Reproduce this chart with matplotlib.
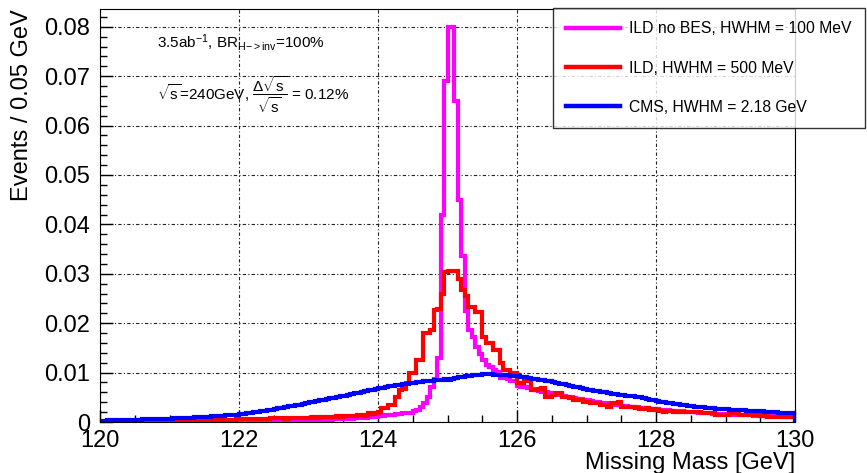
import numpy as np
import matplotlib
matplotlib.use("Agg")
import matplotlib.pyplot as plt
from matplotlib.ticker import MultipleLocator, FuncFormatter
from matplotlib.lines import Line2D

plt.rcParams['font.family'] = ['Liberation Sans', 'DejaVu Sans']
plt.rcParams['mathtext.fontset'] = 'custom'
plt.rcParams['mathtext.rm'] = 'Liberation Sans'
plt.rcParams['mathtext.it'] = 'Liberation Sans'
plt.rcParams['mathtext.default'] = 'regular'

# histogram range, 200 bins of 0.05 GeV
m_low, m_high, n_bins = 120.0, 130.0, 200

labels = ["ILD no BES, HWHM = 100 MeV", "ILD, HWHM = 500 MeV", "CMS, HWHM = 2.18 GeV"]
colors = ["#ff00ff", "#ff0000", "#0000ff"]

ild_nobes = [
    0, 0, 0, 0, 0, 0, 0, 0, 0, 0,
    0, 0, 0, 0, 0, 0, 0, 0, 0, 0,
    0.0001, 0.0001, 0.0001, 0.0001, 0.0001, 0.0001, 0.0001, 0.0001, 0.0001, 0.0001,
    0.0001, 0.0001, 0.0001, 0.0001, 0.0001, 0.0001, 0.0001, 0.0001, 0.0001, 0.0001,
    0.0001, 0.0001, 0.0001, 0.0001, 0.0001, 0.0002, 0.0002, 0.0002, 0.0002, 0.0002,
    0.0002, 0.0002, 0.0002, 0.0002, 0.0003, 0.0003, 0.0003, 0.0003, 0.0003, 0.0004,
    0.0004, 0.0004, 0.0004, 0.0005, 0.0005, 0.0005, 0.0005, 0.0006, 0.0006, 0.0006,
    0.0007, 0.0007, 0.0007, 0.0008, 0.0008, 0.0009, 0.0009, 0.0010, 0.0010, 0.0011,
    0.0012, 0.0013, 0.0014, 0.0014, 0.0015, 0.0016, 0.0017, 0.0018, 0.0018, 0.0019,
    0.0022, 0.0025, 0.0030, 0.0038, 0.0051, 0.0071, 0.0088, 0.0130, 0.0420, 0.0690,
    0.0800, 0.0800, 0.0650, 0.0450, 0.0337, 0.0225, 0.0186, 0.0172, 0.0152, 0.0138,
    0.0125, 0.0115, 0.0112, 0.0105, 0.0102, 0.0090, 0.0089, 0.0088, 0.0082, 0.0082,
    0.0072, 0.0071, 0.0070, 0.0068, 0.0066, 0.0064, 0.0062, 0.0061, 0.0060, 0.0058,
    0.0057, 0.0055, 0.0054, 0.0053, 0.0051, 0.0050, 0.0048, 0.0047, 0.0046, 0.0045,
    0.0044, 0.0042, 0.0041, 0.0040, 0.0039, 0.0038, 0.0037, 0.0036, 0.0035, 0.0034,
    0.0033, 0.0032, 0.0031, 0.0031, 0.0030, 0.0029, 0.0028, 0.0028, 0.0027, 0.0026,
    0.0026, 0.0025, 0.0024, 0.0024, 0.0023, 0.0023, 0.0022, 0.0022, 0.0021, 0.0021,
    0.0020, 0.0020, 0.0019, 0.0019, 0.0018, 0.0018, 0.0017, 0.0017, 0.0017, 0.0016,
    0.0016, 0.0016, 0.0015, 0.0015, 0.0015, 0.0014, 0.0014, 0.0014, 0.0013, 0.0013,
    0.0013, 0.0013, 0.0012, 0.0012, 0.0012, 0.0012, 0.0011, 0.0011, 0.0011, 0.0011,
]

ild = [
    0.0001, 0.0001, 0.0001, 0.0001, 0.0001, 0.0001, 0.0001, 0.0001, 0.0002, 0.0002,
    0.0002, 0.0002, 0.0002, 0.0002, 0.0002, 0.0002, 0.0002, 0.0002, 0.0003, 0.0003,
    0.0003, 0.0003, 0.0003, 0.0003, 0.0003, 0.0003, 0.0004, 0.0004, 0.0004, 0.0004,
    0.0004, 0.0004, 0.0004, 0.0005, 0.0005, 0.0005, 0.0005, 0.0005, 0.0005, 0.0006,
    0.0006, 0.0006, 0.0006, 0.0006, 0.0007, 0.0007, 0.0007, 0.0007, 0.0007, 0.0008,
    0.0008, 0.0008, 0.0008, 0.0007, 0.0008, 0.0009, 0.0009, 0.0008, 0.0009, 0.0009,
    0.0009, 0.0010, 0.0009, 0.0010, 0.0010, 0.0011, 0.0010, 0.0011, 0.0012, 0.0011,
    0.0012, 0.0012, 0.0013, 0.0012, 0.0014, 0.0015, 0.0013, 0.0019, 0.0017, 0.0018,
    0.0021, 0.0028, 0.0028, 0.0034, 0.0035, 0.0051, 0.0065, 0.0066, 0.0079, 0.0099,
    0.0099, 0.0125, 0.0125, 0.0180, 0.0181, 0.0186, 0.0227, 0.0228, 0.0260, 0.0304,
    0.0306, 0.0306, 0.0305, 0.0290, 0.0267, 0.0255, 0.0233, 0.0233, 0.0223, 0.0222,
    0.0173, 0.0160, 0.0160, 0.0146, 0.0146, 0.0119, 0.0105, 0.0105, 0.0100, 0.0100,
    0.0079, 0.0079, 0.0082, 0.0082, 0.0065, 0.0065, 0.0067, 0.0069, 0.0051, 0.0051,
    0.0055, 0.0059, 0.0059, 0.0051, 0.0051, 0.0048, 0.0045, 0.0045, 0.0045, 0.0041,
    0.0041, 0.0038, 0.0038, 0.0038, 0.0034, 0.0034, 0.0031, 0.0038, 0.0038, 0.0041,
    0.0031, 0.0031, 0.0031, 0.0031, 0.0028, 0.0026, 0.0026, 0.0028, 0.0024, 0.0026,
    0.0024, 0.0022, 0.0021, 0.0022, 0.0022, 0.0021, 0.0021, 0.0020, 0.0021, 0.0021,
    0.0021, 0.0020, 0.0021, 0.0018, 0.0018, 0.0018, 0.0018, 0.0014, 0.0014, 0.0014,
    0.0015, 0.0018, 0.0018, 0.0018, 0.0014, 0.0014, 0.0014, 0.0015, 0.0014, 0.0014,
    0.0013, 0.0014, 0.0010, 0.0010, 0.0011, 0.0010, 0.0010, 0.0012, 0.0010, 0.0010,
]

cms = [
    0.0003, 0.0003, 0.0004, 0.0004, 0.0004, 0.0004, 0.0005, 0.0005, 0.0005, 0.0005,
    0.0005, 0.0005, 0.0006, 0.0006, 0.0006, 0.0006, 0.0007, 0.0007, 0.0007, 0.0007,
    0.0007, 0.0008, 0.0008, 0.0008, 0.0009, 0.0009, 0.0009, 0.0010, 0.0010, 0.0010,
    0.0011, 0.0011, 0.0012, 0.0012, 0.0013, 0.0013, 0.0014, 0.0014, 0.0015, 0.0015,
    0.0016, 0.0017, 0.0018, 0.0019, 0.0020, 0.0021, 0.0022, 0.0023, 0.0024, 0.0025,
    0.0027, 0.0028, 0.0029, 0.0030, 0.0032, 0.0033, 0.0034, 0.0035, 0.0037, 0.0038,
    0.0040, 0.0041, 0.0042, 0.0044, 0.0045, 0.0046, 0.0048, 0.0049, 0.0050, 0.0052,
    0.0053, 0.0055, 0.0056, 0.0058, 0.0059, 0.0061, 0.0062, 0.0064, 0.0065, 0.0067,
    0.0068, 0.0069, 0.0071, 0.0072, 0.0073, 0.0074, 0.0075, 0.0076, 0.0077, 0.0078,
    0.0079, 0.0080, 0.0081, 0.0082, 0.0083, 0.0084, 0.0085, 0.0086, 0.0086, 0.0087,
    0.0086, 0.0088, 0.0090, 0.0091, 0.0092, 0.0093, 0.0094, 0.0095, 0.0096, 0.0096,
    0.0097, 0.0097, 0.0097, 0.0096, 0.0096, 0.0096, 0.0095, 0.0095, 0.0094, 0.0094,
    0.0093, 0.0092, 0.0091, 0.0089, 0.0088, 0.0087, 0.0086, 0.0085, 0.0084, 0.0082,
    0.0080, 0.0079, 0.0077, 0.0076, 0.0074, 0.0073, 0.0071, 0.0070, 0.0068, 0.0067,
    0.0065, 0.0064, 0.0063, 0.0062, 0.0061, 0.0060, 0.0058, 0.0057, 0.0056, 0.0055,
    0.0054, 0.0053, 0.0052, 0.0052, 0.0051, 0.0050, 0.0049, 0.0047, 0.0045, 0.0044,
    0.0042, 0.0041, 0.0040, 0.0039, 0.0038, 0.0037, 0.0036, 0.0035, 0.0034, 0.0033,
    0.0032, 0.0031, 0.0031, 0.0030, 0.0029, 0.0029, 0.0028, 0.0027, 0.0027, 0.0026,
    0.0026, 0.0025, 0.0025, 0.0024, 0.0024, 0.0024, 0.0023, 0.0023, 0.0023, 0.0022,
    0.0022, 0.0021, 0.0021, 0.0020, 0.0020, 0.0019, 0.0019, 0.0019, 0.0018, 0.0018,
]

edges = np.linspace(m_low, m_high, n_bins + 1)

fig = plt.figure(figsize=(8.67, 4.73), dpi=100)
ax = fig.add_axes([100 / 867, 1 - 422 / 473, 695 / 867, 413 / 473])

for vals, col in zip([ild_nobes, ild, cms], colors):
    ax.stairs(vals, edges, color=col, linewidth=3.0, baseline=0)

ax.set_xlim(m_low, m_high)
ax.set_ylim(0, 0.0836)

ax.xaxis.set_major_locator(MultipleLocator(2))
ax.xaxis.set_minor_locator(MultipleLocator(0.5))
ax.yaxis.set_major_locator(MultipleLocator(0.01))
ax.yaxis.set_minor_locator(MultipleLocator(0.002))
ax.yaxis.set_major_formatter(FuncFormatter(lambda v, p: '0' if abs(v) < 1e-9 else f'{v:.2f}'))
ax.tick_params(which='both', direction='in', top=False, right=False, labelsize=17)
ax.tick_params(which='major', length=9, width=1)
ax.tick_params(which='minor', length=5, width=1)
ax.tick_params(axis='x', pad=6)
ax.tick_params(axis='y', pad=7)

ax.grid(True, which='major', color='#222222', linestyle=(0, (3, 2, 1, 2)), linewidth=0.8)
ax.set_axisbelow(True)

ax.set_ylabel('Events / 0.05 GeV', fontsize=17, loc='top', labelpad=8)
ax.set_xlabel('Missing Mass [GeV]', fontsize=17, loc='right', labelpad=0)

ax.text(157 / 867, 1 - 42 / 473, r'3.5ab$^{-1}$, BR$_{H{-}{>}inv}$=100%',
        transform=fig.transFigure, fontsize=11, va='center', ha='left')
ax.text(157 / 867, 1 - 95 / 473,
        r'$\sqrt{s}$=240GeV, $\dfrac{\Delta\sqrt{s}}{\sqrt{s}}$ = 0.12%',
        transform=fig.transFigure, fontsize=11, va='center', ha='left')

handles = [Line2D([], [], color=c, linewidth=3.2) for c in colors]
leg = fig.legend(handles, labels, loc='upper left',
                 bbox_to_anchor=(553 / 867, 1 - 8 / 473), fontsize=11.3,
                 frameon=True, fancybox=False, borderpad=0.85,
                 handlelength=3.4, handletextpad=0.6, labelspacing=1.55,
                 borderaxespad=0)
leg.get_frame().set_edgecolor('black')
leg.get_frame().set_linewidth(1.0)

fig.savefig('out.png', dpi=100)
